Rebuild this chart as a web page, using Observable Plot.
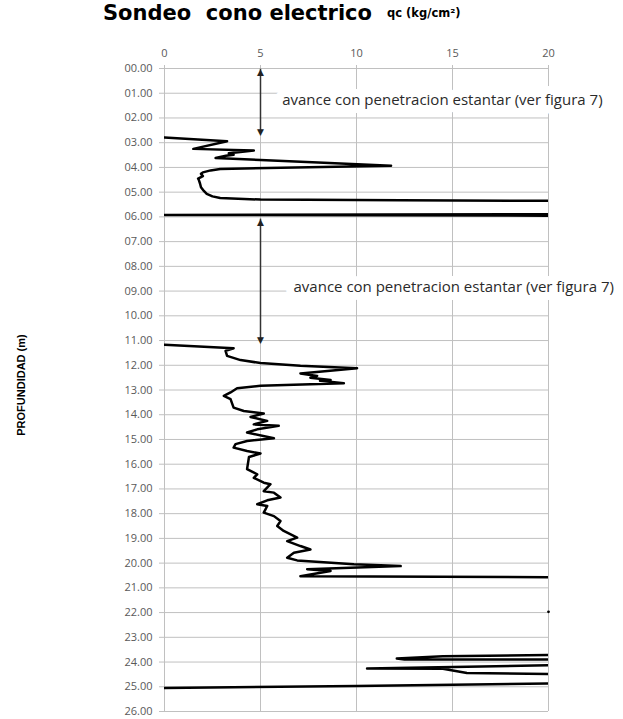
<!DOCTYPE html>
<html>
<head>
<meta charset="utf-8">
<script src="https://cdn.jsdelivr.net/npm/d3@7"></script>
<script src="https://cdn.jsdelivr.net/npm/@observablehq/plot@0.6"></script>
<style>
  body { margin: 0; background: #fff; }
  #wrap { position: relative; width: 623px; height: 719px; font-family: "Open Sans", sans-serif; }
  #title { position: absolute; left: 103px; top: 0px; font-family: "DejaVu Sans", sans-serif; font-size: 21px; font-weight: 700; color: #000; white-space: pre; line-height: 26px; }
  #unit { position: absolute; left: 387px; top: 6px; font-family: "DejaVu Sans", sans-serif; font-size: 11.5px; font-weight: 700; color: #000; line-height: 14px; }
  #chart { position: absolute; left: 0; top: 0; }
</style>
</head>
<body>
<div id="wrap">
  <div id="chart"></div>
  <div id="title">Sondeo  cono electrico</div>
  <div id="unit">qc (kg/cm²)</div>
</div>
<script>
// Tick values
const qcTicks = [0, 5, 10, 15, 20];
const depthTicks = [0,1,2,3,4,5,6,7,8,9,10,11,12,13,14,15,16,17,18,19,20,21,22,23,24,25,26];

// Segment 1 (2.8 - 5.35 m)
const tramo1Depth = [2.79,2.94,3.25,3.32,3.43,3.49,3.53,3.62,3.70,3.80,3.93,4.06,4.12,4.20,4.26,4.35,4.45,4.53,4.65,4.80,4.95,5.07,5.17,5.24,5.30,5.33,5.35];
const tramo1Qc    = [0.0,3.26,1.5,4.65,3.35,3.6,3.2,2.66,5.0,8.0,11.8,2.9,2.4,2.0,1.9,2.0,1.75,1.8,1.85,1.9,2.05,2.2,2.5,2.9,5.0,12.3,20];
// Segment 2 (5.9 m)
const tramo2Depth = [5.89, 5.92, 5.95];
const tramo2Qc    = [20, 0, 20];
// Segment 3 (11.2 - 20.6 m)
const tramo3Depth = [11.17,11.31,11.42,11.62,11.79,11.91,12.02,12.12,12.33,12.43,12.50,12.60,12.63,12.73,12.83,12.93,13.10,13.24,13.37,13.71,13.85,13.95,14.09,14.25,14.39,14.45,14.59,14.72,14.95,15.06,15.19,15.33,15.47,15.57,15.71,16.20,16.41,16.55,16.75,16.81,17.09,17.15,17.35,17.46,17.62,17.69,17.96,18.10,18.30,18.50,18.70,18.97,19.11,19.31,19.45,19.58,19.78,19.89,20.05,20.12,20.25,20.32,20.53,20.57];
const tramo3Qc    = [0.0,3.6,3.18,3.26,3.96,5.0,7.08,10.03,7.08,7.95,7.6,8.65,8.1,9.34,5.0,3.78,3.44,3.09,3.44,3.6,4.13,5.17,4.48,5.35,4.65,5.95,4.83,4.3,5.7,4.3,3.7,3.6,4.3,5.0,4.4,4.3,4.83,4.65,5.17,5.52,5.17,5.7,6.04,5.35,4.83,5.35,5.17,5.7,6.04,5.87,6.21,6.91,6.39,7.08,7.6,6.74,6.39,6.91,9.86,12.3,7.43,8.65,7.08,20];
// Segment 4 (23.7 - 23.9 m)
const tramo4Depth = [23.72, 23.77, 23.86, 23.90, 23.90];
const tramo4Qc    = [20, 14.5, 12.1, 12.5, 20];
// Segment 5 (24.1 - 24.5 m)
const tramo5Depth = [24.13, 24.26, 24.27, 24.44, 24.48];
const tramo5Qc    = [20, 10.55, 14.5, 15.75, 20];
// Segment 6 (24.9 - 25.05 m)
const tramo6Depth = [24.87, 24.97, 25.05];
const tramo6Qc    = [20, 10, 0];
// Isolated reading
const puntoDepth = [21.97];
const puntoQc = [20];

// Annotations
const notaTexto = ["avance con penetracion estantar (ver figura 7)", "avance con penetracion estantar (ver figura 7)"];
const notaDepth = [1.3, 8.85];
const notaQc = [6.13, 6.72];
const flechaQc = [5, 5];
const flechaTop = [0.03, 6.09];
const flechaBottom = [2.63, 11.05];

const tramos = [
  [tramo1Depth, tramo1Qc], [tramo2Depth, tramo2Qc], [tramo3Depth, tramo3Qc],
  [tramo4Depth, tramo4Qc], [tramo5Depth, tramo5Qc], [tramo6Depth, tramo6Qc]
];
const rows = tramos.flatMap(([d, q], i) => d.map((v, j) => ({seg: i, depth: v, qc: q[j]})));
const puntos = puntoDepth.map((d, i) => ({depth: d, qc: puntoQc[i]}));
const notas = notaTexto.map((t, i) => ({text: t, depth: notaDepth[i], qc: notaQc[i]}));
const flechas = flechaQc.map((q, i) => ({qc: q, top: flechaTop[i], bottom: flechaBottom[i]}));

const grid = "#c0c0c0";
const chart = Plot.plot({
  width: 623,
  height: 719,
  marginLeft: 164,
  marginRight: 75,
  marginTop: 68,
  marginBottom: 8,
  style: {fontFamily: "Open Sans, sans-serif", background: "transparent"},
  x: {domain: [0, 20]},
  y: {domain: [0, 26], reverse: true},
  marks: [
    Plot.ruleY(depthTicks, {stroke: grid, strokeWidth: 1}),
    Plot.ruleX(qcTicks, {stroke: grid, strokeWidth: 1}),
    Plot.axisX({anchor: "top", ticks: qcTicks, tickSize: 4, tickPadding: 8, stroke: grid, fill: "#595959", fontSize: 11, label: null, style: {letterSpacing: "1.8px"}}),
    Plot.axisY({anchor: "left", ticks: depthTicks, tickSize: 5, tickPadding: 7, tickFormat: d3.format("05.2f"), stroke: grid, fill: "#595959", fontSize: 11, label: null, style: {letterSpacing: "1.7px"}}),
    Plot.text(notas, {x: "qc", y: "depth", text: "text", textAnchor: "start", fontSize: 15, fill: "#2a2a2a", stroke: "white", strokeWidth: 16, style: {letterSpacing: "0.75px"}}),
    Plot.ruleX(flechas, {x: "qc", y1: "top", y2: "bottom", stroke: "#333", strokeWidth: 1.5}),
    Plot.text(flechas, {x: "qc", y: "top", text: () => "▲", fontFamily: "DejaVu Sans", fontSize: 9, fill: "#222", lineAnchor: "top", dy: -1}),
    Plot.text(flechas, {x: "qc", y: "bottom", text: () => "▼", fontFamily: "DejaVu Sans", fontSize: 9, fill: "#222", lineAnchor: "bottom", dy: 1}),
    Plot.line(rows, {x: "qc", y: "depth", z: "seg", stroke: "#000", strokeWidth: 2.5, curve: "linear", clip: true}),
    Plot.dot(puntos, {x: "qc", y: "depth", r: 1.4, fill: "#000", stroke: null}),
    Plot.text(["PROFUNDIDAD (m)"], {frameAnchor: "left", text: d => d, textAnchor: "middle", lineAnchor: "middle", rotate: -90, dx: -143, dy: -5, fontFamily: "Liberation Sans Narrow, Liberation Sans, sans-serif", fontSize: 11, fontWeight: 700, fill: "#000"})
  ]
});
document.getElementById("chart").appendChild(chart);
</script>
</body>
</html>
